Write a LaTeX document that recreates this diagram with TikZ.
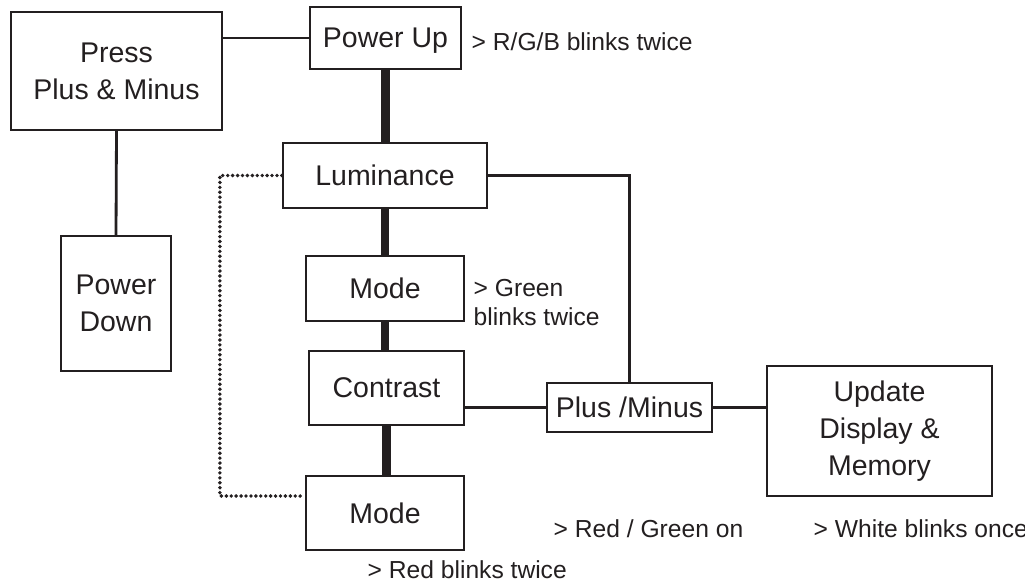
\documentclass[tikz,border=0pt]{standalone}
\usepackage{fontspec}
\setmainfont{Liberation Sans}
\usetikzlibrary{calc}
\definecolor{ink}{HTML}{231F20}
\newcommand\boxfont{\fontsize{8.1}{10.5}\selectfont}
\newcommand\hintfont{\fontsize{7}{8}\selectfont}
\newcommand\hint[3]{\node[anchor=base west, align=left, font=\hintfont, text=ink, inner sep=0pt] (#1) at (#2) {#3};}
\tikzset{
  blk/.style={draw=ink, text=ink, line width=0.6pt, inner sep=0pt, align=center, font=\boxfont},
  thin/.style={draw=ink, line width=0.8pt},
  thick/.style={draw=ink, line width=2.3pt},
  dots/.style={draw=ink, line width=1.1pt, line cap=round, dash pattern=on 0pt off 1.4pt}
}
\begin{document}
\begin{tikzpicture}[x=0.01cm, y=-0.01cm]
    \useasboundingbox (0,0) rectangle (1025,582);

	% left column
	\node[blk, minimum width=2.11cm, minimum height=1.18cm] (press) at (116.5,71) {Press\\Plus \& Minus};
	\node[blk, minimum width=1.10cm, minimum height=1.35cm] (pwrdn) at (116,303.5) {Power\\Down};
	\draw[thin] (press.south) -- (pwrdn.north);

	% power up
	\node[blk, minimum width=1.51cm, minimum height=0.62cm, text depth=0pt] (pwrup) at (385.5,38) {Power Up};
	\draw[thin] (press.east |- pwrup.west) -- (pwrup.west);
	\hint{rgb}{471,51}{> R/G/B blinks twice}

	% middle chain
	\node[blk, minimum width=2.04cm, minimum height=0.65cm] (lum) at (385,175.5) {Luminance};
	\node[blk, minimum width=1.58cm, minimum height=0.65cm] (mode1) at (385,288.5) {Mode};
	\node[blk, minimum width=1.55cm, minimum height=0.74cm] (contr) at (386.5,388) {Contrast};
	\node[blk, minimum width=1.58cm, minimum height=0.74cm] (mode2) at (385,513) {Mode};
	\draw[thick] (pwrup.south) -- (pwrup.south |- lum.north);
	\draw[thick] (lum.south) -- (lum.south |- mode1.north);
	\draw[thick] (mode1.south) -- (mode1.south |- contr.north);
	\draw[thick] (contr.south) -- (contr.south |- mode2.north);
	\hint{green}{473,325}{> Green\\blinks twice}
	\hint{red}{367,578}{> Red blinks twice}

	% loop back, dotted
	\coordinate (back) at ($(mode2.west)+(0,-17)$);
	\draw[dots] (lum.west) -- ++(-62,0) |- (back);

	% plus / minus
	\node[blk, minimum width=1.65cm, minimum height=0.49cm] (pm) at (629.5,407.5) {Plus /Minus};
	\draw[thin] (contr.east |- pm.west) -- (pm.west);
	\draw[thin] (lum.east) -| (pm.north);
	\hint{redgreen}{553,537}{> Red / Green on}

	% update
	\node[blk, minimum width=2.25cm, minimum height=1.30cm] (upd) at (879.5,431) {Update\\Display \&\\Memory};
	\draw[thin] (pm.east) -- (pm.east -| upd.west);
	\hint{white}{813,537}{> White blinks once}
\end{tikzpicture}
\end{document}
